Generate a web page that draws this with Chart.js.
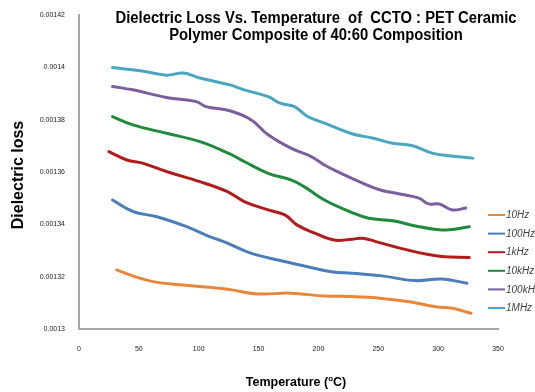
<!DOCTYPE html>
<html>
<head>
<meta charset="utf-8">
<script src="https://cdn.jsdelivr.net/npm/chart.js@4.4.1/dist/chart.umd.min.js"></script>
<style>
  html, body { margin: 0; padding: 0; background: #ffffff; }
  #wrap { width: 535px; height: 392px; position: relative; }
</style>
</head>
<body>
<div id="wrap"><canvas id="c" width="535" height="392"></canvas></div>
<script>
// Dielectric loss of CCTO : PET (40:60) composite vs temperature, per frequency
const seriesNames = ['10Hz', '100Hz', '1kHz', '10kHz', '100kHz', '1MHz'];
const seriesColors = ['#E8873A', '#4A7DBA', '#B31B1B', '#1F8A3A', '#7B5EA0', '#4AA6C0'];

const temp10Hz = [31.5, 45, 62, 87, 124, 149, 177, 205, 228, 253, 276, 298, 312, 327.5];
const loss10Hz = [0.0013226, 0.0013203, 0.0013181, 0.0013168, 0.0013152, 0.0013134, 0.0013137, 0.0013126, 0.0013124, 0.0013117, 0.0013104, 0.0013085, 0.0013079, 0.0013060];

const temp100Hz = [28, 45, 65, 90, 106, 124, 144, 169, 191, 211, 228, 253, 281, 303, 324];
const loss100Hz = [0.0013493, 0.0013449, 0.0013429, 0.0013391, 0.0013359, 0.0013328, 0.0013289, 0.0013261, 0.0013238, 0.0013219, 0.0013213, 0.0013203, 0.0013185, 0.0013191, 0.0013175];

const temp1kHz = [25, 40, 53, 73, 101, 124, 138, 158, 172, 182, 197, 213, 228, 237, 248, 268, 287, 303, 326];
const loss1kHz = [0.0013678, 0.0013646, 0.0013634, 0.0013602, 0.0013563, 0.0013525, 0.0013487, 0.0013455, 0.0013436, 0.0013398, 0.0013366, 0.0013340, 0.0013343, 0.0013347, 0.0013334, 0.0013309, 0.0013289, 0.0013277, 0.0013273];

const temp10kHz = [28, 45, 73, 101, 126, 138, 158, 177, 188, 205, 228, 242, 262, 281, 301, 309, 326];
const loss10kHz = [0.0013812, 0.0013780, 0.0013748, 0.0013716, 0.0013669, 0.0013640, 0.0013595, 0.0013570, 0.0013544, 0.0013493, 0.0013445, 0.0013423, 0.0013414, 0.0013394, 0.0013379, 0.0013379, 0.0013391];

const temp100kHz = [28, 45, 73, 98, 106, 126, 144, 158, 177, 194, 205, 219, 228, 251, 268, 284, 292, 301, 312, 323];
const loss100kHz = [0.0013927, 0.0013914, 0.0013885, 0.0013869, 0.0013850, 0.0013834, 0.0013799, 0.0013742, 0.0013691, 0.0013659, 0.0013627, 0.0013595, 0.0013576, 0.0013532, 0.0013516, 0.0013500, 0.0013478, 0.0013478, 0.0013455, 0.0013462];

const temp1MHz = [28, 51, 73, 87, 101, 126, 138, 158, 168, 180, 191, 205, 228, 245, 262, 278, 295, 309, 329];
const loss1MHz = [0.0013999, 0.0013987, 0.0013970, 0.0013978, 0.0013959, 0.0013933, 0.0013914, 0.0013888, 0.0013863, 0.0013850, 0.0013812, 0.0013787, 0.0013746, 0.0013730, 0.0013710, 0.0013701, 0.0013672, 0.0013662, 0.0013653];

const xTicks = [0, 50, 100, 150, 200, 250, 300, 350];
const yTicks = [0.0013, 0.00132, 0.00134, 0.00136, 0.00138, 0.0014, 0.00142];

const titleLines = ['Dielectric Loss Vs. Temperature  of  CCTO : PET Ceramic', 'Polymer Composite of 40:60 Composition'];
const yTitle = 'Dielectric loss';

const temps = [temp10Hz, temp100Hz, temp1kHz, temp10kHz, temp100kHz, temp1MHz];
const losses = [loss10Hz, loss100Hz, loss1kHz, loss10kHz, loss100kHz, loss1MHz];

const datasets = seriesNames.map((name, i) => ({
  label: name,
  data: temps[i].map((t, k) => ({ x: t, y: losses[i][k] })),
  borderColor: seriesColors[i],
  backgroundColor: seriesColors[i],
  borderWidth: 3,
  borderCapStyle: 'round',
  borderJoinStyle: 'round',
  pointRadius: 0,
  tension: 0.4,
  fill: false
}));

// Chart title, axis titles and the legend column
const decorations = {
  id: 'decorations',
  afterDraw(chart) {
    const ctx = chart.ctx;
    ctx.save();
    ctx.fillStyle = '#000';
    // title, horizontally condensed
    ctx.font = 'bold 16px "Liberation Sans", Arial, sans-serif';
    ctx.textBaseline = 'alphabetic';
    ctx.textAlign = 'center';
    const w1 = ctx.measureText(titleLines[0]).width;
    const sx = 401 / w1;
    [[titleLines[0], 23], [titleLines[1], 40]].forEach(([txt, y]) => {
      ctx.save();
      ctx.translate(316, y);
      ctx.scale(sx, 1);
      ctx.fillText(txt, 0, 0);
      ctx.restore();
    });

    // y axis title
    ctx.save();
    ctx.translate(23, 175);
    ctx.rotate(-Math.PI / 2);
    ctx.font = 'bold 16px "Liberation Sans", Arial, sans-serif';
    ctx.textAlign = 'center';
    ctx.textBaseline = 'alphabetic';
    ctx.fillText(yTitle, 0, 0);
    ctx.restore();

    // x axis title with superscript degree "o"
    const big = 'bold 12.5px "Liberation Sans", Arial, sans-serif';
    const small = 'bold 8px "Liberation Sans", Arial, sans-serif';
    const parts = [['Temperature (', big, 0], ['o', small, -5], ['C)', big, 0]];
    let total = 0;
    parts.forEach(p => { ctx.font = p[1]; total += ctx.measureText(p[0]).width; });
    let x = 296 - total / 2;
    ctx.textAlign = 'left';
    parts.forEach(p => {
      ctx.font = p[1];
      ctx.fillText(p[0], x, 386 + p[2]);
      x += ctx.measureText(p[0]).width;
    });

    // legend
    ctx.font = 'italic 10px "Liberation Sans", Arial, sans-serif';
    ctx.textBaseline = 'middle';
    chart.data.datasets.forEach((ds, i) => {
      const y = 215 + i * 18.6;
      ctx.strokeStyle = ds.borderColor;
      ctx.lineWidth = 2;
      ctx.beginPath();
      ctx.moveTo(488, y);
      ctx.lineTo(505, y);
      ctx.stroke();
      ctx.fillStyle = '#404040';
      ctx.fillText(ds.label, 506, y + 0.5);
    });
    ctx.restore();
  }
};

new Chart(document.getElementById('c'), {
  type: 'line',
  data: { datasets },
  options: {
    responsive: false,
    animation: false,
    layout: { padding: { left: 0, right: 37, top: 15, bottom: 0 } },
    plugins: {
      legend: { display: false },
      title: { display: false },
      tooltip: { enabled: false }
    },
    scales: {
      x: {
        type: 'linear',
        min: 0,
        max: 350,
        afterBuildTicks: s => { s.ticks = xTicks.map(v => ({ value: v })); },
        afterFit: s => { s.height = 392 - 329; },
        grid: { display: false },
        border: { display: true, color: '#a6a6a6', width: 2 },
        ticks: {
          padding: 8,
          font: { size: 7, family: '"Liberation Sans", Arial, sans-serif' },
          color: '#222',
          maxRotation: 0,
          callback: v => String(v)
        }
      },
      y: {
        min: 0.0013,
        max: 0.00142,
        afterBuildTicks: s => { s.ticks = yTicks.map(v => ({ value: v })); },
        afterFit: s => { s.width = 79; },
        grid: { display: false },
        border: { display: true, color: '#a6a6a6', width: 2 },
        ticks: {
          padding: 6,
          font: { size: 7, family: '"Liberation Sans", Arial, sans-serif' },
          color: '#222',
          callback: v => String(v)
        }
      }
    }
  },
  plugins: [decorations]
});
</script>
</body>
</html>
